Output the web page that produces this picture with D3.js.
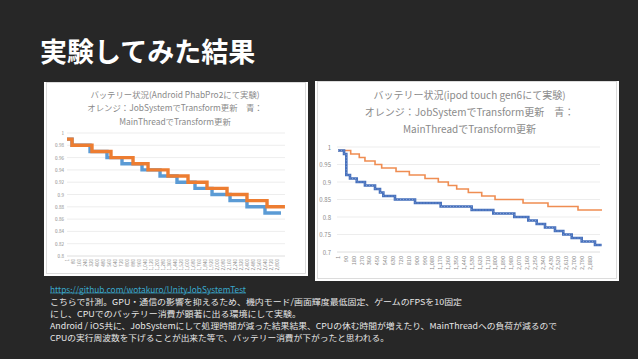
<!DOCTYPE html>
<html><head><meta charset="utf-8">
<script src="https://cdn.jsdelivr.net/npm/d3@7"></script>
<style>
html,body{margin:0;padding:0;background:#272727;}
svg{display:block;}
text{font-family:"Noto Sans CJK JP","Noto Sans",sans-serif;}
</style></head>
<body>
<svg id="c" width="638" height="359"></svg>
<script>
// ---------- data ----------
const slideTitle = "実験してみた結果";
const leftTitle = ["バッテリー状況(Android PhabPro2にて実験)", "オレンジ：JobSystemでTransform更新　青：", "MainThreadでTransform更新"];
const rightTitle = ["バッテリー状況(ipod touch gen6にて実験)", "オレンジ：JobSystemでTransform更新　青：", "MainThreadでTransform更新"];

const leftYTicks = [1, 0.98, 0.96, 0.94, 0.92, 0.9, 0.88, 0.86, 0.84, 0.82, 0.8];
const leftXLabels = [1,80,160,240,320,400,480,560,640,720,800,880,960,1040,1120,1200,1280,1360,1440,1520,1600,1680,1760,1840,1920,2000,2080,2160,2240,2320,2400,2480,2560,2640,2720,2800];
const androidJobT  = [1,68,334,587,881,1081,1347,1614,1867,2134,2400,2667,2906];
const androidJobV  = [0.99,0.98,0.97,0.96,0.95,0.94,0.93,0.92,0.91,0.90,0.89,0.88,0.88];
const androidMainT = [1,68,308,534,734,1001,1241,1467,1707,1934,2174,2400,2640,2853];
const androidMainV = [0.99,0.98,0.97,0.96,0.95,0.94,0.93,0.92,0.91,0.90,0.89,0.88,0.87,0.87];

const rightYTicks = [1, 0.95, 0.9, 0.85, 0.8, 0.75, 0.7];
const rightXLabels = [1,90,180,270,360,450,540,630,720,810,900,990,1080,1170,1260,1350,1440,1530,1620,1710,1800,1890,1980,2070,2160,2250,2340,2430,2520,2610,2700,2790,2880];
const ipodJobT  = [1,146,244,309,424,500,664,816,995,1147,1261,1357,1490,1643,1795,2115,2400,2743,3017];
const ipodJobV  = [0.99,0.98,0.97,0.96,0.95,0.94,0.93,0.92,0.91,0.90,0.89,0.88,0.87,0.86,0.85,0.84,0.83,0.82,0.82];
const ipodMainT = [1,70,96,138,215,309,424,481,519,652,881,1174,1528,1775,2015,2175,2271,2366,2480,2575,2671,2785,2937,3013];
const ipodMainV = [0.99,0.98,0.92,0.91,0.90,0.89,0.88,0.87,0.86,0.85,0.84,0.83,0.82,0.81,0.80,0.79,0.78,0.77,0.76,0.75,0.74,0.73,0.72,0.72];

const linkText = "https://github.com/wotakuro/UnityJobSystemTest";
const bodyLines = [
  "こちらで計測。GPU・通信の影響を抑えるため、機内モード/画面輝度最低固定、ゲームのFPSを10固定",
  "にし、CPUでのバッテリー消費が顕著に出る環境にして実験。",
  "Android / iOS共に、JobSystemにして処理時間が減った結果結果、CPUの休む時間が増えたり、MainThreadへの負荷が減るので",
  "CPUの実行周波数を下げることが出来た等で、バッテリー消費が下がったと思われる。"
];
const bodyWidths = [412, 251, 507, 339];

// ---------- drawing ----------
const svg = d3.select("#c");
svg.append("rect").attr("width",638).attr("height",359).attr("fill","#272727");

svg.append("text").attr("x",40).attr("y",62).attr("fill","#ffffff")
  .attr("font-size",27).attr("font-weight",700).text(slideTitle);

const fmt = d3.format(",");
const zip = (T,V) => T.map((t,i)=>({t:t,v:V[i]}));

function chart(cfg){
  const g = svg.append("g");
  g.append("rect").attr("x",cfg.box[0]).attr("y",cfg.box[1]).attr("width",cfg.box[2]).attr("height",cfg.box[3])
    .attr("fill","#ffffff");
  g.append("rect").attr("x",cfg.box[0]+2.5).attr("y",cfg.box[1]+0.5).attr("width",cfg.box[2]-5).attr("height",cfg.box[3]-3)
    .attr("fill","none").attr("stroke","#d4d4d4").attr("stroke-width",0.8);
  cfg.title.forEach((s,i)=>{
    g.append("text").attr("x",cfg.tx).attr("y",cfg.ty[i]).attr("text-anchor","middle")
      .attr("dominant-baseline","central").attr("fill","#8a8a8a").attr("font-size",cfg.tfs).text(s);
  });
  const x = d3.scaleLinear().domain(cfg.xd).range(cfg.xr);
  const y = d3.scaleLinear().domain(cfg.yd).range(cfg.yr);
  // grid
  g.selectAll(null).data(cfg.yticks).enter().append("line")
    .attr("x1",cfg.gx[0]).attr("x2",cfg.gx[1]).attr("y1",d=>y(d)).attr("y2",d=>y(d))
    .attr("stroke",(d,i)=>i===cfg.yticks.length-1?"#d6d6d6":"#e8e8e8").attr("stroke-width",0.8);
  // y labels
  g.selectAll(null).data(cfg.yticks).enter().append("text")
    .attr("x",cfg.ylx).attr("y",d=>y(d)).attr("text-anchor","end").attr("dominant-baseline","central")
    .attr("fill","#8a8a8a").attr("font-size",cfg.yfs).text(d=>d);
  // x labels
  g.selectAll(null).data(cfg.xlabels).enter().append("text")
    .attr("transform",d=>`translate(${x(d)+cfg.xfs*0.35},${cfg.xly}) rotate(-90)`)
    .attr("text-anchor","end").attr("fill","#8a8a8a").attr("font-size",cfg.xfs).text(d=>fmt(d));
  const line = d3.line().x(d=>x(d.t)).y(d=>y(d.v)).curve(d3.curveStepAfter);
  cfg.series.forEach(s=>{
    g.append("path").attr("d",line(s.data)).attr("fill","none").attr("stroke",s.color)
      .attr("stroke-width",s.w).attr("stroke-linejoin","miter");
    if(s.dash){
      g.append("path").attr("d",line(s.data)).attr("fill","none").attr("stroke","#7f9bd2")
        .attr("stroke-width",1).attr("stroke-dasharray",s.dash);
    }
  });
}

chart({
  box:[44,82,264,194], title:leftTitle, tx:175, ty:[93.7,106.5,120.5], tfs:8.4,
  xd:[1,2800], xr:[67,277], yd:[0.8,1], yr:[256,133], gx:[67,285],
  yticks:leftYTicks, ylx:64, yfs:4.6, xlabels:leftXLabels, xly:259, xfs:4.6,
  series:[
    {data:zip(androidMainT,androidMainV), color:"#5B9BD5", w:3.4},
    {data:zip(androidJobT,androidJobV), color:"#ED7D31", w:3.4}
  ]
});

chart({
  box:[315,81,304,200], title:rightTitle, tx:469.5, ty:[94.7,111.3,128], tfs:10,
  xd:[1,2880], xr:[338,590], yd:[0.7,1], yr:[252,147], gx:[337,600],
  yticks:rightYTicks, ylx:331, yfs:6, xlabels:rightXLabels, xly:256, xfs:5.6,
  series:[
    {data:zip(ipodJobT,ipodJobV), color:"#EF8D52", w:1.6},
    {data:zip(ipodMainT,ipodMainV), color:"#4670BC", w:2.6, dash:"1,2"}
  ]
});

// bottom text
svg.append("text").attr("x",50).attr("y",288.5).attr("dominant-baseline","central")
  .attr("fill","#3aa7cc").attr("font-size",8.4).attr("textLength",196).attr("lengthAdjust","spacingAndGlyphs")
  .text(linkText);
svg.append("line").attr("x1",50).attr("x2",246).attr("y1",293).attr("y2",293)
  .attr("stroke","#3aa7cc").attr("stroke-width",0.7);
const by = [301,313,325,337];
bodyLines.forEach((s,i)=>{
  svg.append("text").attr("x",50).attr("y",by[i]).attr("dominant-baseline","central")
    .attr("fill","#e6e6e6").attr("font-size",8.2).attr("textLength",bodyWidths[i]).attr("lengthAdjust","spacingAndGlyphs")
    .text(s);
});
</script>
</body></html>
